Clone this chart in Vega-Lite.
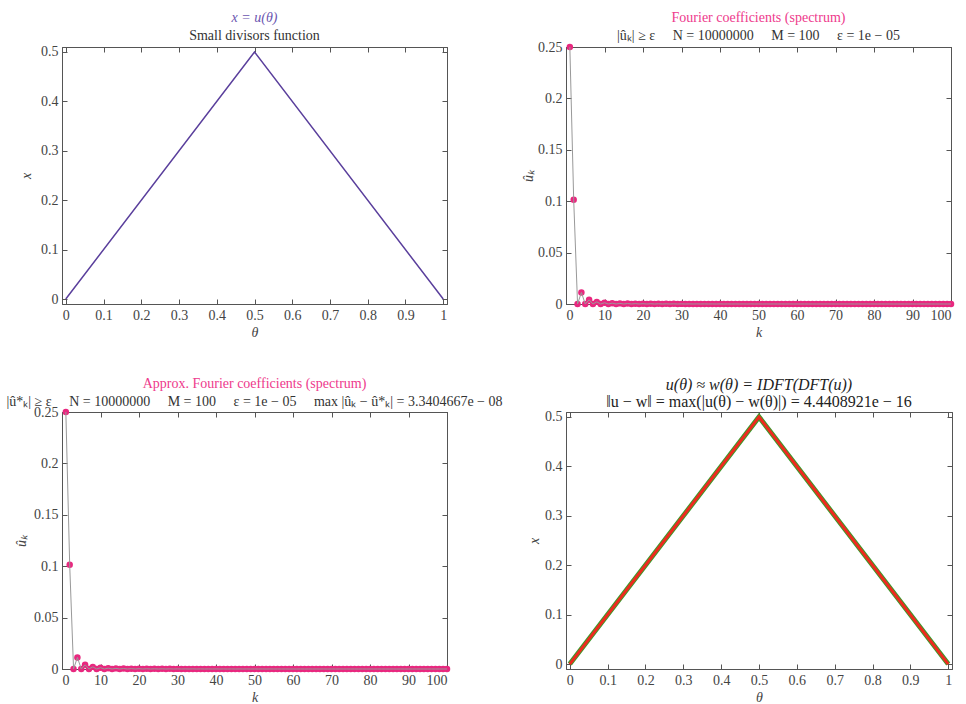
{
  "$schema": "https://vega.github.io/schema/vega-lite/v6.json",
  "autosize": {"type": "pad"},
  "padding": {"left": 5, "top": 10, "right": 2, "bottom": 2},
  "background": "white",
  "columns": 2,
  "spacing": {"row": 108, "column": 119},
  "bounds": "flush",
  "config": {
    "font": "Liberation Serif",
    "view": {"stroke": "#555", "strokeWidth": 1},
    "axis": {"domainColor": "#555", "tickColor": "#555", "tickSize": -5, "labelColor": "#444", "labelFontSize": 14, "labelFont": "Liberation Serif", "titleFont": "Liberation Serif", "titleFontSize": 14, "titleColor": "#444", "titleFontStyle": "italic", "titleFontWeight": "normal", "grid": false, "labelPadding": 9},
    "axisX": {"titlePadding": 3},
    "axisY": {"titlePadding": 5},
    "title": {"font": "Liberation Serif", "fontSize": 14, "fontWeight": "normal", "subtitleFont": "Liberation Serif", "subtitleFontSize": 14, "anchor": "middle", "frame": "group", "offset": 5, "subtitlePadding": 4}
  },
  "datasets": {
    "tri": [{"theta": 0, "x": 0}, {"theta": 0.5, "x": 0.5}, {"theta": 1, "x": 0}],
    "spec": [
      {"k": 1, "a": 0.25}, {"k": 2, "a": 0.10132}, {"k": 3, "a": 0}, {"k": 4, "a": 0.011258}, {"k": 5, "a": 0}, {"k": 6, "a": 0.004053}, {"k": 7, "a": 0}, {"k": 8, "a": 0.002068}, {"k": 9, "a": 0}, {"k": 10, "a": 0.001251},
      {"k": 11, "a": 0}, {"k": 12, "a": 0.000837}, {"k": 13, "a": 0}, {"k": 14, "a": 0.0006}, {"k": 15, "a": 0}, {"k": 16, "a": 0.00045}, {"k": 17, "a": 0}, {"k": 18, "a": 0.000351}, {"k": 19, "a": 0}, {"k": 20, "a": 0.000281},
      {"k": 21, "a": 0}, {"k": 22, "a": 0.00023}, {"k": 23, "a": 0}, {"k": 24, "a": 0.000192}, {"k": 25, "a": 0}, {"k": 26, "a": 0.000162}, {"k": 27, "a": 0}, {"k": 28, "a": 0.000139}, {"k": 29, "a": 0}, {"k": 30, "a": 0.00012},
      {"k": 31, "a": 0}, {"k": 32, "a": 0.000105}, {"k": 33, "a": 0}, {"k": 34, "a": 0.000093}, {"k": 35, "a": 0}, {"k": 36, "a": 0.0000827}, {"k": 37, "a": 0}, {"k": 38, "a": 0.000074}, {"k": 39, "a": 0}, {"k": 40, "a": 0.0000666},
      {"k": 41, "a": 0}, {"k": 42, "a": 0.0000603}, {"k": 43, "a": 0}, {"k": 44, "a": 0.0000548}, {"k": 45, "a": 0}, {"k": 46, "a": 0.00005}, {"k": 47, "a": 0}, {"k": 48, "a": 0.0000459}, {"k": 49, "a": 0}, {"k": 50, "a": 0.0000422},
      {"k": 51, "a": 0}, {"k": 52, "a": 0.000039}, {"k": 53, "a": 0}, {"k": 54, "a": 0.0000361}, {"k": 55, "a": 0}, {"k": 56, "a": 0.0000335}, {"k": 57, "a": 0}, {"k": 58, "a": 0.0000312}, {"k": 59, "a": 0}, {"k": 60, "a": 0.0000291},
      {"k": 61, "a": 0}, {"k": 62, "a": 0.0000272}, {"k": 63, "a": 0}, {"k": 64, "a": 0.0000255}, {"k": 65, "a": 0}, {"k": 66, "a": 0.000024}, {"k": 67, "a": 0}, {"k": 68, "a": 0.0000226}, {"k": 69, "a": 0}, {"k": 70, "a": 0.0000213},
      {"k": 71, "a": 0}, {"k": 72, "a": 0.0000201}, {"k": 73, "a": 0}, {"k": 74, "a": 0.000019}, {"k": 75, "a": 0}, {"k": 76, "a": 0.000018}, {"k": 77, "a": 0}, {"k": 78, "a": 0.0000171}, {"k": 79, "a": 0}, {"k": 80, "a": 0.0000162},
      {"k": 81, "a": 0}, {"k": 82, "a": 0.0000154}, {"k": 83, "a": 0}, {"k": 84, "a": 0.0000147}, {"k": 85, "a": 0}, {"k": 86, "a": 0.000014}, {"k": 87, "a": 0}, {"k": 88, "a": 0.0000134}, {"k": 89, "a": 0}, {"k": 90, "a": 0.0000128},
      {"k": 91, "a": 0}, {"k": 92, "a": 0.0000122}, {"k": 93, "a": 0}, {"k": 94, "a": 0.0000117}, {"k": 95, "a": 0}, {"k": 96, "a": 0.0000112}, {"k": 97, "a": 0}, {"k": 98, "a": 0.0000108}, {"k": 99, "a": 0}, {"k": 100, "a": 0.0000103}
    ]
  },
  "concat": [
    {
      "width": 385, "height": 257,
      "title": {"text": "x = u(θ)", "subtitle": "Small divisors function", "color": "#6b55b0", "fontStyle": "italic", "subtitleColor": "#333", "offset": 2},
      "data": {"name": "tri"},
      "layer": [
        {"mark": {"type": "line", "color": "#5a3f9c", "strokeWidth": 1.5},
         "encoding": {
           "x": {"field": "theta", "type": "quantitative", "scale": {"domain": [-0.01, 1.01], "nice": false, "zero": false}, "axis": {"title": "θ", "values": [0, 0.1, 0.2, 0.3, 0.4, 0.5, 0.6, 0.7, 0.8, 0.9, 1], "format": "~g"}},
           "y": {"field": "x", "type": "quantitative", "scale": {"domain": [-0.01, 0.51], "nice": false, "zero": false}, "axis": {"title": "x", "titlePadding": 7, "values": [0, 0.1, 0.2, 0.3, 0.4, 0.5], "format": "~g"}}
         }},
        {"mark": {"type": "line", "opacity": 0},
         "encoding": {
           "x": {"field": "theta", "type": "quantitative", "axis": {"orient": "top", "title": null, "labels": false, "values": [0, 0.1, 0.2, 0.3, 0.4, 0.5, 0.6, 0.7, 0.8, 0.9, 1]}},
           "y": {"field": "x", "type": "quantitative", "axis": {"orient": "right", "title": null, "labels": false, "values": [0, 0.1, 0.2, 0.3, 0.4, 0.5]}}
         }}
      ],
      "resolve": {"axis": {"x": "independent", "y": "independent"}}
    },
    {
      "width": 385, "height": 257,
      "title": {"text": "Fourier coefficients (spectrum)", "subtitle": "|ûₖ| ≥ ε\u2003 N = 10000000\u2003 M = 100\u2003 ε = 1e − 05", "color": "#ee3a8c", "subtitleColor": "#333", "offset": -3},
      "data": {"name": "spec"},
      "layer": [
        {"mark": {"type": "point", "filled": true, "color": "#e8287f", "opacity": 1, "size": 42},
         "encoding": {
           "x": {"field": "k", "type": "quantitative", "scale": {"domain": [0, 100], "nice": false}, "axis": {"title": "k", "values": [0, 10, 20, 30, 40, 50, 60, 70, 80, 90, 100]}},
           "y": {"field": "a", "type": "quantitative", "scale": {"domain": [0, 0.25], "nice": false}, "axis": {"title": "ûₖ", "titlePadding": 2, "values": [0, 0.05, 0.1, 0.15, 0.2, 0.25], "format": "~g"}}
         }},
        {"mark": {"type": "line", "color": "#999", "strokeWidth": 1},
         "encoding": {
           "x": {"field": "k", "type": "quantitative", "axis": {"orient": "top", "title": null, "labels": false, "values": [0, 10, 20, 30, 40, 50, 60, 70, 80, 90, 100]}},
           "y": {"field": "a", "type": "quantitative", "axis": {"orient": "right", "title": null, "labels": false, "values": [0, 0.05, 0.1, 0.15, 0.2, 0.25]}}
         }}
      ],
      "resolve": {"axis": {"x": "independent", "y": "independent"}}
    },
    {
      "width": 385, "height": 257,
      "title": {"text": "Approx. Fourier coefficients (spectrum)", "subtitle": "|û*ₖ| ≥ ε\u2003 N = 10000000\u2003 M = 100\u2003 ε = 1e − 05\u2003 max |ûₖ − û*ₖ| = 3.3404667e − 08", "color": "#ee3a8c", "subtitleColor": "#333", "offset": -4},
      "data": {"name": "spec"},
      "layer": [
        {"mark": {"type": "point", "filled": true, "color": "#e8287f", "opacity": 1, "size": 42},
         "encoding": {
           "x": {"field": "k", "type": "quantitative", "scale": {"domain": [0, 100], "nice": false}, "axis": {"title": "k", "values": [0, 10, 20, 30, 40, 50, 60, 70, 80, 90, 100]}},
           "y": {"field": "a", "type": "quantitative", "scale": {"domain": [0, 0.25], "nice": false}, "axis": {"title": "ûₖ", "values": [0, 0.05, 0.1, 0.15, 0.2, 0.25], "format": "~g"}}
         }},
        {"mark": {"type": "line", "color": "#999", "strokeWidth": 1},
         "encoding": {
           "x": {"field": "k", "type": "quantitative", "axis": {"orient": "top", "title": null, "labels": false, "values": [0, 10, 20, 30, 40, 50, 60, 70, 80, 90, 100]}},
           "y": {"field": "a", "type": "quantitative", "axis": {"orient": "right", "title": null, "labels": false, "values": [0, 0.05, 0.1, 0.15, 0.2, 0.25]}}
         }}
      ],
      "resolve": {"axis": {"x": "independent", "y": "independent"}}
    },
    {
      "width": 386, "height": 257,
      "title": {"text": "u(θ) ≈ w(θ) = IDFT(DFT(u))", "subtitle": "‖u − w‖ = max(|u(θ) − w(θ)|) = 4.4408921e − 16", "color": "#222", "fontStyle": "italic", "subtitleColor": "#222", "fontSize": 16, "subtitleFontSize": 16, "offset": -3, "subtitlePadding": 1},
      "data": {"name": "tri"},
      "layer": [
        {"mark": {"type": "line", "color": "#3c9a2c", "strokeWidth": 5},
         "encoding": {
           "x": {"field": "theta", "type": "quantitative", "scale": {"domain": [-0.01, 1.01], "nice": false, "zero": false}, "axis": {"title": "θ", "values": [0, 0.1, 0.2, 0.3, 0.4, 0.5, 0.6, 0.7, 0.8, 0.9, 1], "format": "~g"}},
           "y": {"field": "x", "type": "quantitative", "scale": {"domain": [-0.01, 0.51], "nice": false, "zero": false}, "axis": {"title": "x", "titlePadding": 3, "values": [0, 0.1, 0.2, 0.3, 0.4, 0.5], "format": "~g"}}
         }},
        {"mark": {"type": "line", "color": "#ee2a1f", "strokeWidth": 3},
         "encoding": {
           "x": {"field": "theta", "type": "quantitative", "axis": {"orient": "top", "title": null, "labels": false, "values": [0, 0.1, 0.2, 0.3, 0.4, 0.5, 0.6, 0.7, 0.8, 0.9, 1]}},
           "y": {"field": "x", "type": "quantitative", "axis": {"orient": "right", "title": null, "labels": false, "values": [0, 0.1, 0.2, 0.3, 0.4, 0.5]}}
         }}
      ],
      "resolve": {"axis": {"x": "independent", "y": "independent"}}
    }
  ]
}
